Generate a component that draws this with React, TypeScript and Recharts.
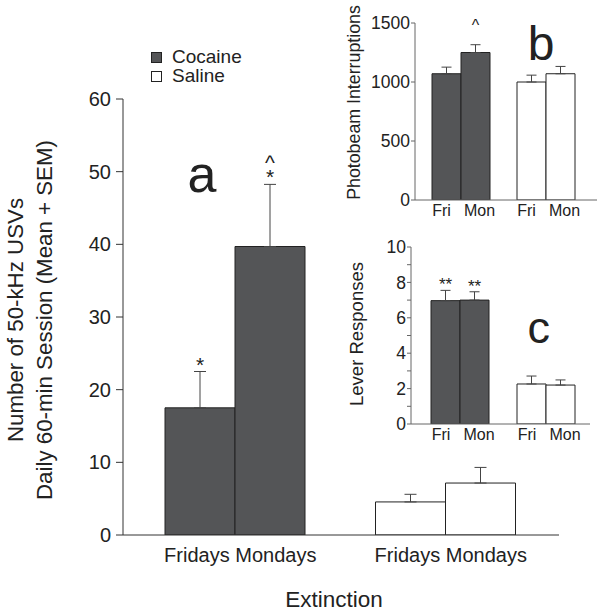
import React from "react";
import { BarChart, Bar, XAxis, YAxis, ErrorBar, Cell, LabelList } from "recharts";

const FONT = '"Liberation Sans", Arial, Helvetica, sans-serif';
const INK = "#222";

const groups = ["Cocaine", "Saline"];
const groupFills = ["#545557", "#ffffff"];

// panel a: 50-kHz USVs per 60-min session
const usvFri = [17.5, 4.55];
const usvFriSem = [5.0, 1.05];
const usvMon = [39.7, 7.15];
const usvMonSem = [8.55, 2.15];
const usvFriMarks = [["*"], []];
const usvMonMarks = [["*", "^"], []];
const usvTicks = [0, 10, 20, 30, 40, 50, 60];

// panel b: photobeam interruptions
const beamFri = [1070, 1000];
const beamFriSem = [56, 58];
const beamMon = [1250, 1070];
const beamMonSem = [66, 62];
const beamFriMarks = [[], []];
const beamMonMarks = [["^"], []];
const beamTicks = [0, 500, 1000, 1500];

// panel c: lever responses
const leverFri = [6.97, 2.26];
const leverFriSem = [0.58, 0.45];
const leverMon = [7.0, 2.2];
const leverMonSem = [0.47, 0.29];
const leverFriMarks = [["**"], []];
const leverMonMarks = [["**"], []];
const leverTicks = [0, 1, 2, 3, 4, 5, 6, 7, 8, 9, 10];

const makeData = (fri: number[], friSem: number[], mon: number[], monSem: number[]) =>
  groups.map((g, i) => ({
    group: g,
    fri: fri[i],
    mon: mon[i],
    friErr: [0, friSem[i]],
    monErr: [0, monSem[i]],
  }));

// significance marks, stacked upward from the top of the error bar
const markLabel =
  (sems: number[], marks: string[][], fontSize: number, lift: number, gap: number) =>
  (props: any) => {
    const x = Number(props.x);
    const y = Number(props.y);
    const w = Number(props.width);
    const h = Number(props.height);
    const v = Number(props.value);
    const lines = marks[props.index] || [];
    if (!lines.length || !v) return null;
    const top = y - (sems[props.index] * h) / v;
    const cx = x + w / 2;
    const base = top - lift;
    const ordered = [...lines].reverse();
    return (
      <text textAnchor="middle" fontSize={fontSize} fill={INK} fontFamily={FONT}>
        {ordered.map((s, k) => (
          <tspan key={k} x={cx} y={base - (ordered.length - 1 - k) * gap}>
            {s}
          </tspan>
        ))}
      </text>
    );
  };

const mainTick = (props: any) => (
  <text x={props.x + 5} y={props.y + 26.7} textAnchor="middle" fontSize={20} fill={INK} fontFamily={FONT}>
    Fridays Mondays
  </text>
);

const insetTick = (props: any) => (
  <g fontSize={16} fill={INK} fontFamily={FONT}>
    <text x={props.x - 19} y={props.y + 16} textAnchor="middle">Fri</text>
    <text x={props.x + 19} y={props.y + 16} textAnchor="middle">Mon</text>
  </g>
);

const evenTick = (props: any) =>
  props.payload.value % 2 === 0 ? (
    <text x={props.x} y={props.y} dy="0.355em" textAnchor="end" fontSize={17.5} fill={INK} fontFamily={FONT}>
      {props.payload.value}
    </text>
  ) : null;

function Panel(p: any) {
  return (
    <div style={{ position: "absolute", left: p.left, top: p.top }}>
      <BarChart
        width={p.width}
        height={p.height}
        data={p.data}
        margin={p.margin}
        barGap={0}
        barSize={p.barSize}
      >
        <XAxis
          dataKey="group"
          height={p.xHeight}
          padding={p.padding}
          tickLine={false}
          tickSize={0}
          tickMargin={0}
          tick={p.xTick}
          stroke={p.axisColor}
          interval={0}
        />
        <YAxis
          width={60}
          domain={p.domain}
          ticks={p.ticks}
          interval={0}
          tickSize={p.tickSize}
          tickMargin={p.tickMargin}
          tick={p.yTick || { fontSize: p.tickFont, fill: INK, fontFamily: FONT }}
          stroke={p.axisColor}
          allowDataOverflow
        />
        <Bar dataKey="fri" stroke="#222" strokeWidth={1} isAnimationActive={false}>
          {groupFills.map((f, i) => (
            <Cell key={i} fill={f} />
          ))}
          <ErrorBar dataKey="friErr" direction="y" width={p.errWidth} stroke="#444" strokeWidth={1} />
          <LabelList dataKey="fri" content={p.friLabel} />
        </Bar>
        <Bar dataKey="mon" stroke="#222" strokeWidth={1} isAnimationActive={false}>
          {groupFills.map((f, i) => (
            <Cell key={i} fill={f} />
          ))}
          <ErrorBar dataKey="monErr" direction="y" width={p.errWidth} stroke="#444" strokeWidth={1} />
          <LabelList dataKey="mon" content={p.monLabel} />
        </Bar>
      </BarChart>
    </div>
  );
}

export default function App() {
  return (
    <div style={{ position: "absolute", left: 0, top: 0, width: 600, height: 614, background: "#fff" }}>
      <Panel
        left={0}
        top={0}
        width={600}
        height={614}
        margin={{ top: 99, right: 41, bottom: 49, left: 63 }}
        xHeight={30}
        padding={{ left: 7, right: 8 }}
        barSize={70}
        data={makeData(usvFri, usvFriSem, usvMon, usvMonSem)}
        domain={[0, 60]}
        ticks={usvTicks}
        tickSize={7}
        tickMargin={5}
        tickFont={20}
        xTick={mainTick}
        axisColor="#333"
        errWidth={6}
        friLabel={markLabel(usvFriSem, usvFriMarks, 21, 0, 14)}
        monLabel={markLabel(usvMonSem, usvMonMarks, 21, 0, 14)}
      />
      <Panel
        left={340}
        top={0}
        width={260}
        height={230}
        margin={{ top: 23, right: 3, bottom: 10, left: 15 }}
        xHeight={20}
        padding={{ left: 3, right: 9 }}
        barSize={29}
        data={makeData(beamFri, beamFriSem, beamMon, beamMonSem)}
        domain={[0, 1500]}
        ticks={beamTicks}
        tickSize={4}
        tickMargin={1}
        tickFont={17.5}
        xTick={insetTick}
        axisColor="#666"
        errWidth={5}
        friLabel={markLabel(beamFriSem, beamFriMarks, 16, 14, 12)}
        monLabel={markLabel(beamMonSem, beamMonMarks, 16, 14, 12)}
      />
      <Panel
        left={340}
        top={230}
        width={260}
        height={220}
        margin={{ top: 17, right: 10, bottom: 6, left: 11 }}
        xHeight={20}
        padding={{ left: 6, right: 1 }}
        barSize={29}
        data={makeData(leverFri, leverFriSem, leverMon, leverMonSem)}
        domain={[0, 10]}
        ticks={leverTicks}
        tickSize={4}
        tickMargin={1}
        yTick={evenTick}
        xTick={insetTick}
        axisColor="#666"
        errWidth={5}
        friLabel={markLabel(leverFriSem, leverFriMarks, 17, 0, 12)}
        monLabel={markLabel(leverMonSem, leverMonMarks, 17, 0, 12)}
      />
      <svg
        width={600}
        height={614}
        style={{ position: "absolute", left: 0, top: 0, pointerEvents: "none" }}
        fontFamily={FONT}
        fill={INK}
      >
        <text transform="translate(22.7,320) rotate(-90)" textAnchor="middle" fontSize={22.3}>
          Number of 50-kHz USVs
        </text>
        <text transform="translate(51.5,320) rotate(-90)" textAnchor="middle" fontSize={22.3}>
          Daily 60-min Session (Mean + SEM)
        </text>
        <text x={334} y={606.7} textAnchor="middle" fontSize={22.5}>
          Extinction
        </text>
        <text x={202} y={192} textAnchor="middle" fontSize={52}>a</text>
        <text x={541} y={60} textAnchor="middle" fontSize={48}>b</text>
        <text x={538.7} y={343.3} textAnchor="middle" fontSize={45}>c</text>
        <text transform="translate(359.5,102.5) rotate(-90)" textAnchor="middle" fontSize={17.8}>
          Photobeam Interruptions
        </text>
        <text transform="translate(363,334) rotate(-90)" textAnchor="middle" fontSize={18.5}>
          Lever Responses
        </text>
        {groups.map((g, i) => (
          <g key={g}>
            <rect x={151.5} y={52.5 + i * 19} width={10} height={10} fill={groupFills[i]} stroke="#222" />
            <text x={172} y={62.7 + i * 19.5} fontSize={19}>
              {g}
            </text>
          </g>
        ))}
      </svg>
    </div>
  );
}
